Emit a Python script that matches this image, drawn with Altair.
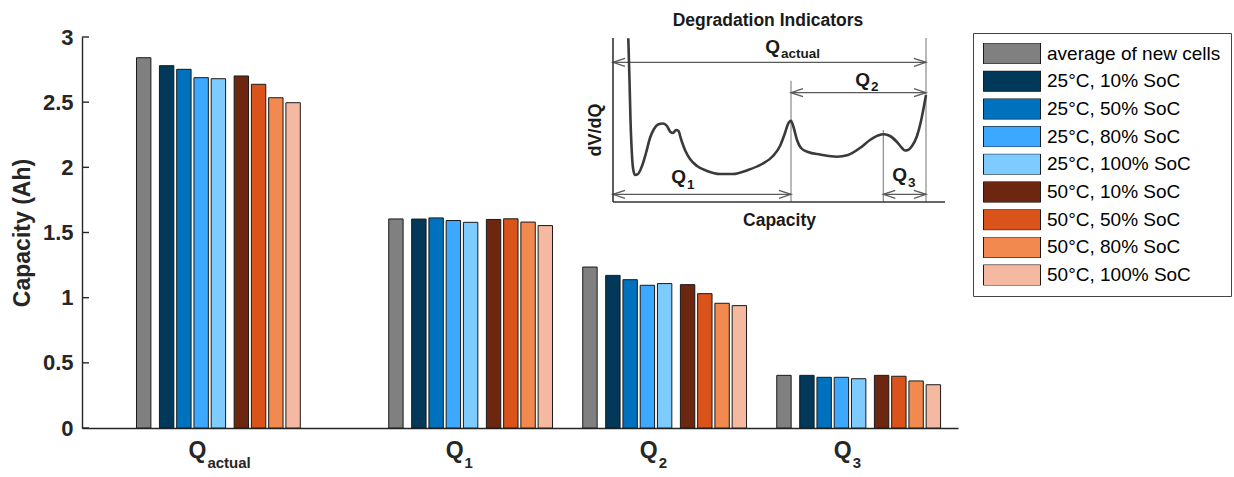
import altair as alt
import pandas as pd

FONT = "Liberation Sans"

# ---------------- main bar chart data ----------------
group_main = ["Q", "Q", "Q", "Q"]
group_sub = ["actual", "1", "2", "3"]
group_pos = [1.0, 2.3, 3.3, 4.3]

series = ["average of new cells",
          "25°C, 10% SoC", "25°C, 50% SoC", "25°C, 80% SoC", "25°C, 100% SoC",
          "50°C, 10% SoC", "50°C, 50% SoC", "50°C, 80% SoC", "50°C, 100% SoC"]
colors = ["#808080",
          "#02385A", "#0072BD", "#3DA8FF", "#7DCBFF",
          "#6D2610", "#D9531A", "#F2894E", "#F5B8A1"]

avg_new = [2.841, 1.604, 1.235, 0.404]
c25_s10 = [2.780, 1.603, 1.171, 0.404]
c25_s50 = [2.752, 1.612, 1.138, 0.389]
c25_s80 = [2.688, 1.592, 1.095, 0.389]
c25_s100 = [2.680, 1.578, 1.108, 0.378]
c50_s10 = [2.701, 1.600, 1.100, 0.404]
c50_s50 = [2.637, 1.605, 1.031, 0.397]
c50_s80 = [2.534, 1.580, 0.957, 0.361]
c50_s100 = [2.496, 1.553, 0.939, 0.332]
all_values = [avg_new, c25_s10, c25_s50, c25_s80, c25_s100,
              c50_s10, c50_s50, c50_s80, c50_s100]

y_ticks = [0, 0.5, 1, 1.5, 2, 2.5, 3]

# ---------------- inset (dV/dQ sketch) data ----------------
curve_cap = [15.3, 16.5, 17.5, 18.7, 20, 22, 25, 29, 33, 37, 41, 45, 50, 54, 57.5, 60, 63, 65.5,
             68, 72, 77, 84, 94, 107, 120, 135, 149, 160, 167, 172, 175, 178, 180.5, 184, 188,
             195, 207, 223.7, 235, 247, 257, 265, 271, 277, 284, 289, 292, 295, 299, 304, 308,
             311, 313]
curve_dvdq = [163.7, 122, 82, 52, 34, 27, 28, 36, 49, 64, 73, 77.5, 78.5, 76, 70, 69, 72, 71,
              63, 52, 43, 36, 31, 28, 28, 32, 38, 46, 56, 69, 78, 81.3, 75, 62, 54,
              50, 47.5, 45.3, 47, 54, 62, 66.5, 67.7, 66, 60, 54, 51.5, 52, 56, 66, 81,
              96, 107]

marker_cap = [313, 178, 270.3]
marker_top = [164, 121.3, 72]

arrow_start = [0, 178, 0, 270.3]
arrow_end = [313, 313, 178, 313]
arrow_level = [139.7, 109.3, 7.7, 7.7]

arrow_q = ["Q", "Q", "Q", "Q"]
arrow_sub = ["actual", "2", "1", "3"]
arrow_label_cap = [167, 257, 73, 294]
arrow_label_dv = [149, 116, 19, 21]
arrow_sub_dv = [144, 111, 13, 15]

# ---------------- layout ----------------
PL, PT = 82, 37
W, H = 876, 391
X_DOMAIN = [0.297, 4.812]
STEP = 17.25 / 194.0
HALF = 7.2 / 194.0
slot = [-4.33, -3, -2, -1, 0, 1.33, 2.33, 3.33, 4.33]

INSET_LEFT, INSET_BOTTOM = 613, 202
CAP_DOMAIN = [PL - INSET_LEFT, PL - INSET_LEFT + W]
DV_DOMAIN = [INSET_BOTTOM - (PT + H), INSET_BOTTOM - PT]

rows = []
for si, name in enumerate(series):
    for gi in range(len(group_pos)):
        c = group_pos[gi] + slot[si] * STEP
        rows.append({"series": name, "order": si, "value": all_values[si][gi], "base": 0.0,
                     "x_lo": c - HALF, "x_hi": c + HALF})
bars_df = pd.DataFrame(rows)

xs = alt.Scale(domain=X_DOMAIN, nice=False, zero=False)
ys = alt.Scale(domain=[0, 3], nice=False, zero=True)
cs = alt.Scale(domain=CAP_DOMAIN, nice=False, zero=False)
ds = alt.Scale(domain=DV_DOMAIN, nice=False, zero=False)

RECT = "M-1,-0.3684H1V0.3684H-1Z"

bars = alt.Chart(bars_df).mark_bar(stroke="#1a1a1a", strokeWidth=1, opacity=1).encode(
    x=alt.X("x_lo:Q", scale=xs,
            axis=alt.Axis(labels=False, ticks=False, grid=False, title=None,
                          domainColor="#262626", domainWidth=1.4)),
    x2="x_hi:Q",
    y=alt.Y("value:Q", scale=ys,
            axis=alt.Axis(values=y_ticks, format=".1~f", ticks=False, grid=False, labelFont=FONT,
                          labelFontSize=22, labelFontWeight="bold", labelColor="#262626",
                          labelPadding=9, domainColor="#262626", domainWidth=1.4,
                          title="Capacity (Ah)", titleFont=FONT, titleFontSize=23,
                          titleFontWeight="bold", titleColor="#262626", titlePadding=8)),
    y2="base:Q",
    color=alt.Color("series:N", sort=series, scale=alt.Scale(domain=series, range=colors),
                    legend=alt.Legend(title=None, orient="none", legendX=891, legendY=-4,
                                      symbolType=RECT, symbolSize=3249,
                                      symbolStrokeColor="#1a1a1a", symbolStrokeWidth=1,
                                      symbolOpacity=1, labelFont=FONT, labelFontSize=19,
                                      labelColor="black", labelOffset=6, clipHeight=21,
                                      rowPadding=6.7, padding=10, strokeColor="#444444",
                                      fillColor="white", labelLimit=400)),
)

tick_df = pd.DataFrame({"t": y_ticks})
yticks = alt.Chart(tick_df).mark_rule(color="#262626", strokeWidth=1.4).encode(
    y=alt.Y("t:Q", scale=ys, axis=None), x=alt.value(0), x2=alt.value(7))

grp_df = pd.DataFrame({"pos": group_pos, "main": group_main, "sub": group_sub})
def cat_labels(cond, dx):
    base = alt.Chart(grp_df).transform_filter(cond)
    q = base.mark_text(font=FONT, fontSize=23, fontWeight="bold", color="#262626",
                       align="right", baseline="alphabetic", dx=dx).encode(
        x=alt.X("pos:Q", scale=xs, axis=None), y=alt.value(H + 30), text="main:N")
    s = base.mark_text(font=FONT, fontSize=15, fontWeight="bold", color="#262626",
                       align="left", baseline="alphabetic", dx=dx + 1).encode(
        x=alt.X("pos:Q", scale=xs, axis=None), y=alt.value(H + 40), text="sub:N")
    return [q, s]

cat_layers = cat_labels("datum.sub == 'actual'", -12) + cat_labels("datum.sub != 'actual'", -7)

# ---------------- inset layers ----------------
curve_df = pd.DataFrame({"cap": curve_cap, "dv": curve_dvdq})
curve = alt.Chart(curve_df).mark_line(color="#3a3a3a", strokeWidth=2.6, interpolate="monotone").encode(
    x=alt.X("cap:Q", scale=cs, axis=None), y=alt.Y("dv:Q", scale=ds, axis=None))

inset_axes_df = pd.DataFrame({"c1": [0, 0], "c2": [0, 332], "d1": [0, 0], "d2": [164, 0]})
inset_axes = alt.Chart(inset_axes_df).mark_rule(color="#333333", strokeWidth=1.6).encode(
    x=alt.X("c1:Q", scale=cs, axis=None), x2="c2:Q",
    y=alt.Y("d1:Q", scale=ds, axis=None), y2="d2:Q")

mk_df = pd.DataFrame({"cap": marker_cap, "top": marker_top, "bot": [0] * len(marker_cap)})
markers = alt.Chart(mk_df).mark_rule(color="#8a8a8a", strokeWidth=1.2).encode(
    x=alt.X("cap:Q", scale=cs, axis=None),
    y=alt.Y("bot:Q", scale=ds, axis=None), y2="top:Q")

ar_df = pd.DataFrame({"s": arrow_start, "e": arrow_end, "lvl": arrow_level})
arrows = alt.Chart(ar_df).mark_rule(color="#5a5a5a", strokeWidth=1.3).encode(
    x=alt.X("s:Q", scale=cs, axis=None), x2="e:Q",
    y=alt.Y("lvl:Q", scale=ds, axis=None))

head_rows = []
for s, e, l in zip(arrow_start, arrow_end, arrow_level):
    head_rows.append({"cap": s, "dv": l, "dir": "L"})
    head_rows.append({"cap": e, "dv": l, "dir": "R"})
heads_df = pd.DataFrame(head_rows)
heads = alt.Chart(heads_df).mark_point(filled=False, color="#5a5a5a", strokeWidth=1.3,
                                       size=576, opacity=1).encode(
    x=alt.X("cap:Q", scale=cs, axis=None), y=alt.Y("dv:Q", scale=ds, axis=None),
    shape=alt.Shape("dir:N", scale=alt.Scale(domain=["L", "R"],
                    range=["M1,-0.33L0,0L1,0.33", "M-1,-0.33L0,0L-1,0.33"]), legend=None))

lab_df = pd.DataFrame({"q": arrow_q, "sub": arrow_sub, "cap": arrow_label_cap,
                       "dv": arrow_label_dv, "sdv": arrow_sub_dv})
lab_q = alt.Chart(lab_df).mark_text(font=FONT, fontSize=19, fontWeight="bold", color="#1a1a1a",
                                    align="right", baseline="alphabetic").encode(
    x=alt.X("cap:Q", scale=cs, axis=None), y=alt.Y("dv:Q", scale=ds, axis=None), text="q:N")
lab_s = alt.Chart(lab_df).mark_text(font=FONT, fontSize=13.5, fontWeight="bold", color="#1a1a1a",
                                    align="left", baseline="alphabetic", dx=1).encode(
    x=alt.X("cap:Q", scale=cs, axis=None), y=alt.Y("sdv:Q", scale=ds, axis=None), text="sub:N")

inset_text_df = pd.DataFrame({"txt": ["Degradation Indicators", "Capacity"],
                              "cap": [155, 166.5], "dv": [176, -24]})
inset_text = alt.Chart(inset_text_df).mark_text(font=FONT, fontSize=17.5, fontWeight="bold",
                                                color="#1a1a1a", align="center",
                                                baseline="alphabetic").encode(
    x=alt.X("cap:Q", scale=cs, axis=None), y=alt.Y("dv:Q", scale=ds, axis=None), text="txt:N")

ylab_df = pd.DataFrame({"txt": ["dV/dQ"], "cap": [-17], "dv": [72]})
inset_ylab = alt.Chart(ylab_df).mark_text(font=FONT, fontSize=18, fontWeight="bold",
                                          color="#1a1a1a", align="center", baseline="middle",
                                          angle=270).encode(
    x=alt.X("cap:Q", scale=cs, axis=None), y=alt.Y("dv:Q", scale=ds, axis=None), text="txt:N")

chart = alt.layer(
    bars, yticks, *cat_layers,
    markers, arrows, heads, curve, inset_axes, lab_q, lab_s, inset_text, inset_ylab
).resolve_scale(
    x="independent", y="independent", shape="independent"
).properties(
    width=W, height=H,
    autosize=alt.AutoSizeParams(type="none"),
    padding={"left": PL, "top": PT, "right": 1234 - PL - W, "bottom": 477 - PT - H},
    background="white",
).configure_view(stroke=None)

chart.save("out.html", embed_options={"renderer": "svg", "actions": False})
